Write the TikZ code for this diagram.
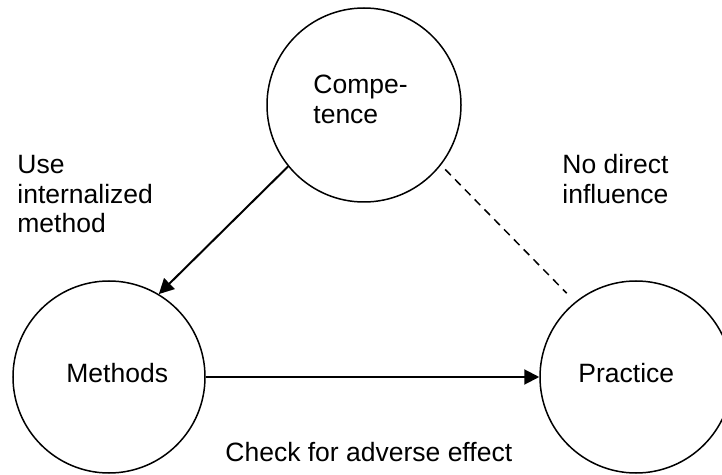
\documentclass[tikz,border=0pt]{standalone}
\usepackage{fontspec}
\setmainfont{Liberation Sans}
\usetikzlibrary{arrows.meta}
\tikzset{
  blob/.style={draw, circle, line width=0.75pt, inner sep=0pt, minimum size=#1},
  txt/.style={inner sep=0pt, anchor=north west, align=left,
    font=\fontsize{13.25}{14.75}\selectfont},
  link/.style={line width=1pt, -{Triangle[length=7.5pt, width=7.5pt]}}
}
\begin{document}
\begin{tikzpicture}[x=0.5pt, y=-0.5pt]
  \clip (0,0) rectangle (722,475);
  % Circles
  \node[blob=97pt] (comp) at (364,105) {};
  \node[blob=96pt] (meth) at (109,377) {};
  \node[blob=96pt] (prac) at (636,377) {};
  \node[txt] (comptxt) at (313,75) {Compe-\\tence};
  \node[txt] (methtxt) at (66,363) {Methods};
  \node[txt] (practxt) at (578,363) {Practice};
  % Arrows
  \draw[link] (comp.219) -- (meth.59);
  \draw[link] (meth.east) -- (prac.west);
  \draw[line width=0.75pt, dash pattern=on 4pt off 3pt, shorten <=3pt, shorten >=6pt]
    (comp.322) -- (prac.129);
  % Labels
  \node[txt] (uselbl) at (17,155) {Use\\internalized\\method};
  \node[txt] (nolbl) at (562,154) {No direct\\influence};
  \node[txt] (chklbl) at (225,442) {Check for adverse effect};
\end{tikzpicture}
\end{document}
